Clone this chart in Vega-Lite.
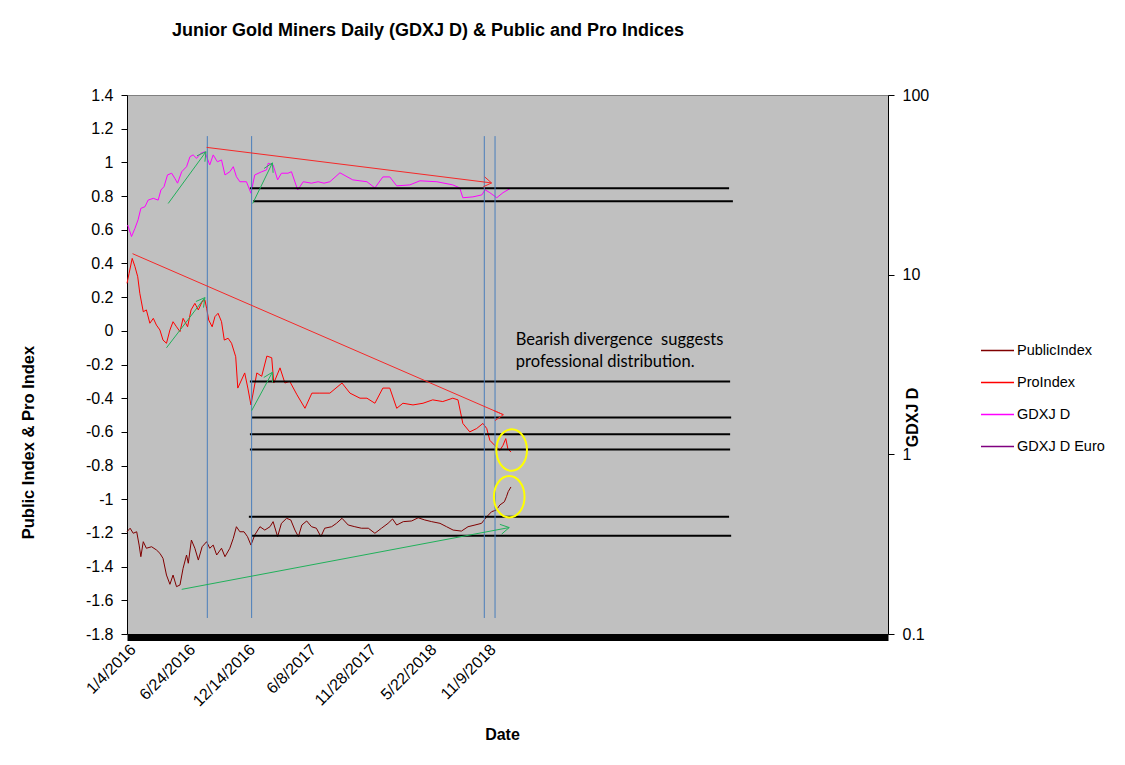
{
  "$schema": "https://vega.github.io/schema/vega-lite/v6.json",
  "width": 761,
  "height": 539,
  "autosize": "none",
  "padding": {"left": 127, "top": 95, "right": 237, "bottom": 131},
  "background": "white",
  "title": {
    "text": "Junior Gold Miners Daily (GDXJ D) & Public and Pro Indices",
    "anchor": "start",
    "frame": "group",
    "dx": 45,
    "offset": 47,
    "font": "Liberation Sans",
    "fontSize": 18,
    "fontWeight": "bold",
    "color": "black"
  },
  "config": {
    "view": {"fill": "#C0C0C0", "stroke": "#808080", "strokeWidth": 1},
    "axis": {"labelFont": "Liberation Sans", "titleFont": "Liberation Sans", "labelColor": "black", "titleColor": "black", "grid": false},
    "font": "Liberation Sans"
  },
  "datasets": {
    "idx": [
      {"date": "2016-01-04", "series": "PublicIndex", "value": -1.193},
      {"date": "2016-01-13", "series": "PublicIndex", "value": -1.172},
      {"date": "2016-01-22", "series": "PublicIndex", "value": -1.202},
      {"date": "2016-02-01", "series": "PublicIndex", "value": -1.193},
      {"date": "2016-02-08", "series": "PublicIndex", "value": -1.272},
      {"date": "2016-02-13", "series": "PublicIndex", "value": -1.341},
      {"date": "2016-02-20", "series": "PublicIndex", "value": -1.252},
      {"date": "2016-02-29", "series": "PublicIndex", "value": -1.291},
      {"date": "2016-03-15", "series": "PublicIndex", "value": -1.282},
      {"date": "2016-03-29", "series": "PublicIndex", "value": -1.301},
      {"date": "2016-04-08", "series": "PublicIndex", "value": -1.321},
      {"date": "2016-04-17", "series": "PublicIndex", "value": -1.351},
      {"date": "2016-04-27", "series": "PublicIndex", "value": -1.450},
      {"date": "2016-05-07", "series": "PublicIndex", "value": -1.505},
      {"date": "2016-05-16", "series": "PublicIndex", "value": -1.450},
      {"date": "2016-05-26", "series": "PublicIndex", "value": -1.519},
      {"date": "2016-06-05", "series": "PublicIndex", "value": -1.509},
      {"date": "2016-06-14", "series": "PublicIndex", "value": -1.410},
      {"date": "2016-06-24", "series": "PublicIndex", "value": -1.331},
      {"date": "2016-06-29", "series": "PublicIndex", "value": -1.380},
      {"date": "2016-07-08", "series": "PublicIndex", "value": -1.242},
      {"date": "2016-07-18", "series": "PublicIndex", "value": -1.291},
      {"date": "2016-07-28", "series": "PublicIndex", "value": -1.361},
      {"date": "2016-08-08", "series": "PublicIndex", "value": -1.282},
      {"date": "2016-08-21", "series": "PublicIndex", "value": -1.252},
      {"date": "2016-08-30", "series": "PublicIndex", "value": -1.291},
      {"date": "2016-09-09", "series": "PublicIndex", "value": -1.272},
      {"date": "2016-09-19", "series": "PublicIndex", "value": -1.331},
      {"date": "2016-10-03", "series": "PublicIndex", "value": -1.291},
      {"date": "2016-10-13", "series": "PublicIndex", "value": -1.341},
      {"date": "2016-10-27", "series": "PublicIndex", "value": -1.291},
      {"date": "2016-11-06", "series": "PublicIndex", "value": -1.232},
      {"date": "2016-11-15", "series": "PublicIndex", "value": -1.163},
      {"date": "2016-11-25", "series": "PublicIndex", "value": -1.193},
      {"date": "2016-12-07", "series": "PublicIndex", "value": -1.193},
      {"date": "2016-12-17", "series": "PublicIndex", "value": -1.222},
      {"date": "2016-12-27", "series": "PublicIndex", "value": -1.272},
      {"date": "2017-01-07", "series": "PublicIndex", "value": -1.212},
      {"date": "2017-01-22", "series": "PublicIndex", "value": -1.163},
      {"date": "2017-02-05", "series": "PublicIndex", "value": -1.183},
      {"date": "2017-02-20", "series": "PublicIndex", "value": -1.163},
      {"date": "2017-03-01", "series": "PublicIndex", "value": -1.133},
      {"date": "2017-03-14", "series": "PublicIndex", "value": -1.222},
      {"date": "2017-03-25", "series": "PublicIndex", "value": -1.143},
      {"date": "2017-04-09", "series": "PublicIndex", "value": -1.113},
      {"date": "2017-04-21", "series": "PublicIndex", "value": -1.123},
      {"date": "2017-05-03", "series": "PublicIndex", "value": -1.183},
      {"date": "2017-05-13", "series": "PublicIndex", "value": -1.222},
      {"date": "2017-05-23", "series": "PublicIndex", "value": -1.153},
      {"date": "2017-06-06", "series": "PublicIndex", "value": -1.129},
      {"date": "2017-06-20", "series": "PublicIndex", "value": -1.163},
      {"date": "2017-07-04", "series": "PublicIndex", "value": -1.172},
      {"date": "2017-07-17", "series": "PublicIndex", "value": -1.222},
      {"date": "2017-07-28", "series": "PublicIndex", "value": -1.172},
      {"date": "2017-08-17", "series": "PublicIndex", "value": -1.163},
      {"date": "2017-08-31", "series": "PublicIndex", "value": -1.143},
      {"date": "2017-09-16", "series": "PublicIndex", "value": -1.113},
      {"date": "2017-10-04", "series": "PublicIndex", "value": -1.153},
      {"date": "2017-10-23", "series": "PublicIndex", "value": -1.163},
      {"date": "2017-11-11", "series": "PublicIndex", "value": -1.172},
      {"date": "2017-12-01", "series": "PublicIndex", "value": -1.172},
      {"date": "2017-12-20", "series": "PublicIndex", "value": -1.202},
      {"date": "2018-01-08", "series": "PublicIndex", "value": -1.172},
      {"date": "2018-01-27", "series": "PublicIndex", "value": -1.143},
      {"date": "2018-02-09", "series": "PublicIndex", "value": -1.117},
      {"date": "2018-02-21", "series": "PublicIndex", "value": -1.153},
      {"date": "2018-03-12", "series": "PublicIndex", "value": -1.133},
      {"date": "2018-04-05", "series": "PublicIndex", "value": -1.129},
      {"date": "2018-04-24", "series": "PublicIndex", "value": -1.110},
      {"date": "2018-05-13", "series": "PublicIndex", "value": -1.123},
      {"date": "2018-06-02", "series": "PublicIndex", "value": -1.133},
      {"date": "2018-06-26", "series": "PublicIndex", "value": -1.143},
      {"date": "2018-07-15", "series": "PublicIndex", "value": -1.163},
      {"date": "2018-08-03", "series": "PublicIndex", "value": -1.183},
      {"date": "2018-08-27", "series": "PublicIndex", "value": -1.189},
      {"date": "2018-09-15", "series": "PublicIndex", "value": -1.163},
      {"date": "2018-10-05", "series": "PublicIndex", "value": -1.153},
      {"date": "2018-10-24", "series": "PublicIndex", "value": -1.143},
      {"date": "2018-11-08", "series": "PublicIndex", "value": -1.104},
      {"date": "2018-11-22", "series": "PublicIndex", "value": -1.074},
      {"date": "2018-12-06", "series": "PublicIndex", "value": -1.064},
      {"date": "2018-12-16", "series": "PublicIndex", "value": -1.034},
      {"date": "2018-12-29", "series": "PublicIndex", "value": -1.015},
      {"date": "2019-01-04", "series": "PublicIndex", "value": -0.985},
      {"date": "2019-01-09", "series": "PublicIndex", "value": -0.955},
      {"date": "2019-01-17", "series": "PublicIndex", "value": -0.927},
      {"date": "2016-01-04", "series": "ProIndex", "value": 0.282},
      {"date": "2016-01-10", "series": "ProIndex", "value": 0.341},
      {"date": "2016-01-19", "series": "ProIndex", "value": 0.430},
      {"date": "2016-01-27", "series": "ProIndex", "value": 0.381},
      {"date": "2016-02-04", "series": "ProIndex", "value": 0.321},
      {"date": "2016-02-10", "series": "ProIndex", "value": 0.223},
      {"date": "2016-02-20", "series": "ProIndex", "value": 0.113},
      {"date": "2016-02-29", "series": "ProIndex", "value": 0.124},
      {"date": "2016-03-10", "series": "ProIndex", "value": 0.045},
      {"date": "2016-03-20", "series": "ProIndex", "value": 0.074},
      {"date": "2016-03-29", "series": "ProIndex", "value": 0.034},
      {"date": "2016-04-08", "series": "ProIndex", "value": 0.005},
      {"date": "2016-04-17", "series": "ProIndex", "value": -0.055},
      {"date": "2016-04-27", "series": "ProIndex", "value": -0.074},
      {"date": "2016-05-07", "series": "ProIndex", "value": 0.005},
      {"date": "2016-05-16", "series": "ProIndex", "value": 0.054},
      {"date": "2016-05-26", "series": "ProIndex", "value": 0.024},
      {"date": "2016-06-05", "series": "ProIndex", "value": -0.005},
      {"date": "2016-06-14", "series": "ProIndex", "value": 0.074},
      {"date": "2016-06-27", "series": "ProIndex", "value": 0.024},
      {"date": "2016-07-07", "series": "ProIndex", "value": 0.124},
      {"date": "2016-07-18", "series": "ProIndex", "value": 0.163},
      {"date": "2016-07-28", "series": "ProIndex", "value": 0.124},
      {"date": "2016-08-08", "series": "ProIndex", "value": 0.173},
      {"date": "2016-08-16", "series": "ProIndex", "value": 0.183},
      {"date": "2016-08-21", "series": "ProIndex", "value": 0.134},
      {"date": "2016-08-27", "series": "ProIndex", "value": 0.064},
      {"date": "2016-09-06", "series": "ProIndex", "value": 0.024},
      {"date": "2016-09-14", "series": "ProIndex", "value": 0.084},
      {"date": "2016-09-23", "series": "ProIndex", "value": 0.104},
      {"date": "2016-10-03", "series": "ProIndex", "value": 0.054},
      {"date": "2016-10-11", "series": "ProIndex", "value": -0.055},
      {"date": "2016-10-22", "series": "ProIndex", "value": -0.044},
      {"date": "2016-11-01", "series": "ProIndex", "value": -0.074},
      {"date": "2016-11-13", "series": "ProIndex", "value": -0.154},
      {"date": "2016-11-19", "series": "ProIndex", "value": -0.34},
      {"date": "2016-12-09", "series": "ProIndex", "value": -0.25},
      {"date": "2016-12-18", "series": "ProIndex", "value": -0.34},
      {"date": "2016-12-27", "series": "ProIndex", "value": -0.44},
      {"date": "2017-01-13", "series": "ProIndex", "value": -0.25},
      {"date": "2017-01-27", "series": "ProIndex", "value": -0.27},
      {"date": "2017-02-11", "series": "ProIndex", "value": -0.15},
      {"date": "2017-02-25", "series": "ProIndex", "value": -0.16},
      {"date": "2017-03-03", "series": "ProIndex", "value": -0.31},
      {"date": "2017-03-21", "series": "ProIndex", "value": -0.22},
      {"date": "2017-04-04", "series": "ProIndex", "value": -0.31},
      {"date": "2017-04-18", "series": "ProIndex", "value": -0.30},
      {"date": "2017-05-09", "series": "ProIndex", "value": -0.38},
      {"date": "2017-06-01", "series": "ProIndex", "value": -0.46},
      {"date": "2017-06-21", "series": "ProIndex", "value": -0.37},
      {"date": "2017-07-14", "series": "ProIndex", "value": -0.37},
      {"date": "2017-08-12", "series": "ProIndex", "value": -0.37},
      {"date": "2017-09-16", "series": "ProIndex", "value": -0.31},
      {"date": "2017-10-09", "series": "ProIndex", "value": -0.37},
      {"date": "2017-11-07", "series": "ProIndex", "value": -0.40},
      {"date": "2017-11-27", "series": "ProIndex", "value": -0.40},
      {"date": "2017-12-20", "series": "ProIndex", "value": -0.43},
      {"date": "2018-01-12", "series": "ProIndex", "value": -0.34},
      {"date": "2018-02-01", "series": "ProIndex", "value": -0.34},
      {"date": "2018-02-21", "series": "ProIndex", "value": -0.46},
      {"date": "2018-03-11", "series": "ProIndex", "value": -0.43},
      {"date": "2018-04-09", "series": "ProIndex", "value": -0.44},
      {"date": "2018-05-08", "series": "ProIndex", "value": -0.43},
      {"date": "2018-06-05", "series": "ProIndex", "value": -0.41},
      {"date": "2018-07-04", "series": "ProIndex", "value": -0.42},
      {"date": "2018-08-02", "series": "ProIndex", "value": -0.40},
      {"date": "2018-08-17", "series": "ProIndex", "value": -0.41},
      {"date": "2018-08-31", "series": "ProIndex", "value": -0.55},
      {"date": "2018-09-20", "series": "ProIndex", "value": -0.60},
      {"date": "2018-10-10", "series": "ProIndex", "value": -0.58},
      {"date": "2018-10-28", "series": "ProIndex", "value": -0.55},
      {"date": "2018-11-08", "series": "ProIndex", "value": -0.58},
      {"date": "2018-11-17", "series": "ProIndex", "value": -0.65},
      {"date": "2018-12-01", "series": "ProIndex", "value": -0.68},
      {"date": "2018-12-16", "series": "ProIndex", "value": -0.71},
      {"date": "2018-12-25", "series": "ProIndex", "value": -0.68},
      {"date": "2019-01-02", "series": "ProIndex", "value": -0.64},
      {"date": "2019-01-08", "series": "ProIndex", "value": -0.70},
      {"date": "2019-01-17", "series": "ProIndex", "value": -0.72}
    ],
    "gdxj": [
      {"date": "2016-01-06", "series": "GDXJ D", "value": 18.9},
      {"date": "2016-01-17", "series": "GDXJ D", "value": 16.3},
      {"date": "2016-01-27", "series": "GDXJ D", "value": 18.1},
      {"date": "2016-02-05", "series": "GDXJ D", "value": 20.2},
      {"date": "2016-02-13", "series": "GDXJ D", "value": 23.4},
      {"date": "2016-02-25", "series": "GDXJ D", "value": 23.9},
      {"date": "2016-03-05", "series": "GDXJ D", "value": 26.0},
      {"date": "2016-03-20", "series": "GDXJ D", "value": 26.6},
      {"date": "2016-04-03", "series": "GDXJ D", "value": 26.0},
      {"date": "2016-04-11", "series": "GDXJ D", "value": 29.6},
      {"date": "2016-04-20", "series": "GDXJ D", "value": 30.9},
      {"date": "2016-04-30", "series": "GDXJ D", "value": 35.9},
      {"date": "2016-05-12", "series": "GDXJ D", "value": 36.7},
      {"date": "2016-05-21", "series": "GDXJ D", "value": 34.4},
      {"date": "2016-05-29", "series": "GDXJ D", "value": 32.3},
      {"date": "2016-06-10", "series": "GDXJ D", "value": 37.4},
      {"date": "2016-06-24", "series": "GDXJ D", "value": 39.9},
      {"date": "2016-07-04", "series": "GDXJ D", "value": 45.4},
      {"date": "2016-07-13", "series": "GDXJ D", "value": 46.4},
      {"date": "2016-07-23", "series": "GDXJ D", "value": 44.4},
      {"date": "2016-08-04", "series": "GDXJ D", "value": 47.4},
      {"date": "2016-08-16", "series": "GDXJ D", "value": 48.3},
      {"date": "2016-08-30", "series": "GDXJ D", "value": 40.8},
      {"date": "2016-09-09", "series": "GDXJ D", "value": 46.4},
      {"date": "2016-09-21", "series": "GDXJ D", "value": 42.5},
      {"date": "2016-10-03", "series": "GDXJ D", "value": 43.5},
      {"date": "2016-10-13", "series": "GDXJ D", "value": 35.9},
      {"date": "2016-10-27", "series": "GDXJ D", "value": 37.4},
      {"date": "2016-11-06", "series": "GDXJ D", "value": 39.9},
      {"date": "2016-11-15", "series": "GDXJ D", "value": 35.1},
      {"date": "2016-11-25", "series": "GDXJ D", "value": 32.9},
      {"date": "2016-12-14", "series": "GDXJ D", "value": 32.9},
      {"date": "2016-12-27", "series": "GDXJ D", "value": 28.4},
      {"date": "2017-01-07", "series": "GDXJ D", "value": 35.9},
      {"date": "2017-01-27", "series": "GDXJ D", "value": 37.4},
      {"date": "2017-02-10", "series": "GDXJ D", "value": 38.3},
      {"date": "2017-02-15", "series": "GDXJ D", "value": 41.7},
      {"date": "2017-03-01", "series": "GDXJ D", "value": 40.8},
      {"date": "2017-03-14", "series": "GDXJ D", "value": 33.7},
      {"date": "2017-03-25", "series": "GDXJ D", "value": 36.7},
      {"date": "2017-04-13", "series": "GDXJ D", "value": 36.7},
      {"date": "2017-04-23", "series": "GDXJ D", "value": 37.4},
      {"date": "2017-05-11", "series": "GDXJ D", "value": 29.6},
      {"date": "2017-05-27", "series": "GDXJ D", "value": 32.9},
      {"date": "2017-06-20", "series": "GDXJ D", "value": 32.3},
      {"date": "2017-07-09", "series": "GDXJ D", "value": 32.9},
      {"date": "2017-07-26", "series": "GDXJ D", "value": 32.3},
      {"date": "2017-08-12", "series": "GDXJ D", "value": 32.9},
      {"date": "2017-09-10", "series": "GDXJ D", "value": 36.9},
      {"date": "2017-10-17", "series": "GDXJ D", "value": 33.7},
      {"date": "2017-11-27", "series": "GDXJ D", "value": 32.9},
      {"date": "2017-12-20", "series": "GDXJ D", "value": 30.4},
      {"date": "2018-01-12", "series": "GDXJ D", "value": 35.0},
      {"date": "2018-02-01", "series": "GDXJ D", "value": 35.0},
      {"date": "2018-02-21", "series": "GDXJ D", "value": 31.2},
      {"date": "2018-03-31", "series": "GDXJ D", "value": 31.6},
      {"date": "2018-04-29", "series": "GDXJ D", "value": 33.3},
      {"date": "2018-06-17", "series": "GDXJ D", "value": 32.9},
      {"date": "2018-08-02", "series": "GDXJ D", "value": 31.6},
      {"date": "2018-08-22", "series": "GDXJ D", "value": 30.4},
      {"date": "2018-08-31", "series": "GDXJ D", "value": 26.8},
      {"date": "2018-09-29", "series": "GDXJ D", "value": 27.1},
      {"date": "2018-10-25", "series": "GDXJ D", "value": 27.8},
      {"date": "2018-11-03", "series": "GDXJ D", "value": 29.7},
      {"date": "2018-11-17", "series": "GDXJ D", "value": 28.6},
      {"date": "2018-12-07", "series": "GDXJ D", "value": 26.8},
      {"date": "2018-12-25", "series": "GDXJ D", "value": 28.6},
      {"date": "2019-01-14", "series": "GDXJ D", "value": 30.1}
    ],
    "levels": [
      {"date": "2016-12-24", "date2": "2020-10-08", "value": 0.847},
      {"date": "2017-01-02", "date2": "2020-10-19", "value": 0.769},
      {"date": "2016-12-24", "date2": "2020-10-11", "value": -0.301},
      {"date": "2016-12-30", "date2": "2020-10-14", "value": -0.514},
      {"date": "2016-12-24", "date2": "2020-10-11", "value": -0.614},
      {"date": "2016-12-24", "date2": "2020-10-11", "value": -0.704},
      {"date": "2016-12-21", "date2": "2020-10-08", "value": -1.104},
      {"date": "2016-12-30", "date2": "2020-10-14", "value": -1.217}
    ],
    "strokes": [
      {"kind": "red", "date": "2016-08-21", "value": 1.089, "date2": "2018-11-22", "value2": 0.878},
      {"kind": "red", "date": "2018-10-29", "value": 0.855, "date2": "2018-11-22", "value2": 0.878},
      {"kind": "red", "date": "2018-11-02", "value": 0.914, "date2": "2018-11-22", "value2": 0.878},
      {"kind": "red", "date": "2016-01-20", "value": 0.458, "date2": "2018-12-26", "value2": -0.498},
      {"kind": "red", "date": "2018-11-29", "value": -0.474, "date2": "2018-12-26", "value2": -0.498},
      {"kind": "red", "date": "2018-12-02", "value": -0.533, "date2": "2018-12-26", "value2": -0.498},
      {"kind": "green", "date": "2016-05-02", "value": 0.756, "date2": "2016-08-19", "value2": 1.063},
      {"kind": "green", "date": "2016-08-16", "value": 1.004, "date2": "2016-08-19", "value2": 1.063},
      {"kind": "green", "date": "2016-07-24", "value": 1.039, "date2": "2016-08-19", "value2": 1.063},
      {"kind": "green", "date": "2017-01-01", "value": 0.756, "date2": "2017-02-27", "value2": 0.997},
      {"kind": "green", "date": "2017-03-01", "value": 0.938, "date2": "2017-02-27", "value2": 0.997},
      {"kind": "green", "date": "2017-02-03", "value": 0.964, "date2": "2017-02-27", "value2": 0.997},
      {"kind": "green", "date": "2016-04-27", "value": -0.101, "date2": "2016-08-16", "value2": 0.197},
      {"kind": "green", "date": "2016-08-12", "value": 0.138, "date2": "2016-08-16", "value2": 0.197},
      {"kind": "green", "date": "2016-07-21", "value": 0.174, "date2": "2016-08-16", "value2": 0.197},
      {"kind": "green", "date": "2016-12-29", "value": -0.474, "date2": "2017-02-27", "value2": -0.246},
      {"kind": "green", "date": "2017-02-27", "value": -0.306, "date2": "2017-02-27", "value2": -0.246},
      {"kind": "green", "date": "2017-02-02", "value": -0.277, "date2": "2017-02-27", "value2": -0.246},
      {"kind": "green", "date": "2016-06-10", "value": -1.535, "date2": "2019-01-12", "value2": -1.168},
      {"kind": "green", "date": "2018-12-21", "value": -1.207, "date2": "2019-01-12", "value2": -1.168},
      {"kind": "green", "date": "2018-12-16", "value": -1.149, "date2": "2019-01-12", "value2": -1.168},
      {"kind": "blue", "date": "2016-08-23", "value": 1.156, "date2": "2016-08-23", "value2": -1.705},
      {"kind": "blue", "date": "2016-12-29", "value": 1.156, "date2": "2016-12-29", "value2": -1.705},
      {"kind": "blue", "date": "2018-11-01", "value": 1.156, "date2": "2018-11-01", "value2": -1.705},
      {"kind": "blue", "date": "2018-12-02", "value": 1.156, "date2": "2018-12-02", "value2": -1.705}
    ],
    "rings": [
      {"date": "2019-01-19", "value": -0.708},
      {"date": "2019-01-12", "value": -0.985}
    ],
    "notes": [
      {"date": "2019-01-31", "value": -0.057, "text": "Bearish divergence\u00a0 suggests"},
      {"date": "2019-01-31", "value": -0.188, "text": "professional distribution."}
    ]
  },
  "layer": [
    {
      "data": {"name": "gdxj"},
      "mark": {"type": "line", "strokeWidth": 1, "clip": true},
      "encoding": {
        "x": {
          "field": "date", "type": "temporal",
          "scale": {"type": "utc", "domain": [{"year": 2016, "month": 1, "date": 4, "utc": true}, {"year": 2022, "month": 1, "date": 10, "utc": true}]},
          "axis": {
            "values": [
              {"year": 2016, "month": 1, "date": 4, "utc": true},
              {"year": 2016, "month": 6, "date": 24, "utc": true},
              {"year": 2016, "month": 12, "date": 14, "utc": true},
              {"year": 2017, "month": 6, "date": 8, "utc": true},
              {"year": 2017, "month": 11, "date": 28, "utc": true},
              {"year": 2018, "month": 5, "date": 22, "utc": true},
              {"year": 2018, "month": 11, "date": 9, "utc": true}
            ],
            "tickCount": 20,
            "labelExpr": "utcFormat(datum.value, '%-m/%-d/%Y')",
            "labelAngle": -45,
            "labelAlign": "right",
            "labelBaseline": "top",
            "labelFontSize": 16,
            "labelPadding": 4,
            "labelFlush": false,
            "labelOverlap": false,
            "ticks": false,
            "domainColor": "black",
            "domainWidth": 7,
            "offset": 3,
            "title": "Date",
            "titleFontSize": 16,
            "titleFontWeight": "bold",
            "titleX": 375,
            "titleY": 89,
            "titleAlign": "center"
          }
        },
        "y": {
          "field": "value", "type": "quantitative",
          "scale": {"type": "log", "domain": [0.1, 100], "nice": false},
          "axis": {
            "orient": "right",
            "values": [0.1, 1, 10, 100],
            "tickCount": 10,
            "labelExpr": "'' + datum.value",
            "labelOverlap": false,
            "tickSize": 6,
            "tickColor": "black",
            "domainColor": "black",
            "labelPadding": 8,
            "labelFontSize": 16,
            "title": "GDXJ D",
            "titleFontSize": 16,
            "titleFontWeight": "bold",
            "titleAngle": 270,
            "titleX": 24,
            "titleY": 322,
            "titleAlign": "center",
            "titleBaseline": "middle"
          }
        },
        "color": {
          "field": "series", "type": "nominal",
          "scale": {"domain": ["PublicIndex", "ProIndex", "GDXJ D", "GDXJ D Euro"], "range": ["#800000", "#FF0000", "#FF00FF", "#800080"]},
          "legend": {
            "orient": "none",
            "legendX": 853,
            "legendY": 238,
            "title": null,
            "symbolType": "stroke",
            "symbolSize": 1089,
            "symbolStrokeWidth": 1.5,
            "labelFont": "Liberation Sans",
            "labelFontSize": 14.5,
            "labelColor": "black",
            "labelOffset": 2,
            "rowPadding": 8,
            "padding": 0
          }
        }
      }
    },
    {
      "layer": [
        {
          "data": {"name": "idx"},
          "mark": {"type": "line", "strokeWidth": 1},
          "encoding": {
            "x": {"field": "date", "type": "temporal"},
            "y": {
              "field": "value", "type": "quantitative",
              "scale": {"domain": [-1.8, 1.4], "nice": false, "zero": false},
              "axis": {
                "orient": "left",
                "values": [-1.8, -1.6, -1.4, -1.2, -1, -0.8, -0.6, -0.4, -0.2, 0, 0.2, 0.4, 0.6, 0.8, 1, 1.2, 1.4],
                "tickCount": 30,
                "labelExpr": "'' + datum.value",
                "labelOverlap": false,
                "tickSize": 6,
                "tickColor": "black",
                "domainColor": "black",
                "labelPadding": 8,
                "labelFontSize": 16,
                "title": "Public Index & Pro Index",
                "titleFontSize": 16.5,
                "titleFontWeight": "bold",
                "titleAngle": 270,
                "titleX": -99,
                "titleY": 347,
                "titleAlign": "center",
                "titleBaseline": "middle"
              }
            },
            "color": {
              "field": "series", "type": "nominal",
              "scale": {"domain": ["PublicIndex", "ProIndex", "GDXJ D", "GDXJ D Euro"], "range": ["#800000", "#FF0000", "#FF00FF", "#800080"]},
              "legend": {
                "orient": "none",
                "legendX": 853,
                "legendY": 238,
                "title": null,
                "symbolType": "stroke",
                "symbolSize": 1089,
                "symbolStrokeWidth": 1.5,
                "labelFont": "Liberation Sans",
                "labelFontSize": 14.5,
                "labelColor": "black",
                "labelOffset": 2,
                "rowPadding": 8,
                "padding": 0
              }
            }
          }
        },
        {
          "data": {"name": "levels"},
          "mark": {"type": "rule", "color": "black", "strokeWidth": 2},
          "encoding": {
            "x": {"field": "date", "type": "temporal"},
            "x2": {"field": "date2"},
            "y": {"field": "value", "type": "quantitative"}
          }
        },
        {
          "data": {"name": "strokes"},
          "transform": [{"filter": "datum.kind === 'blue'"}],
          "mark": {"type": "rule", "color": "#4A7EBB", "strokeWidth": 1},
          "encoding": {
            "x": {"field": "date", "type": "temporal"},
            "x2": {"field": "date2"},
            "y": {"field": "value", "type": "quantitative"},
            "y2": {"field": "value2"}
          }
        },
        {
          "data": {"name": "strokes"},
          "transform": [{"filter": "datum.kind === 'red'"}],
          "mark": {"type": "rule", "color": "#F52828", "strokeWidth": 1},
          "encoding": {
            "x": {"field": "date", "type": "temporal"},
            "x2": {"field": "date2"},
            "y": {"field": "value", "type": "quantitative"},
            "y2": {"field": "value2"}
          }
        },
        {
          "data": {"name": "strokes"},
          "transform": [{"filter": "datum.kind === 'green'"}],
          "mark": {"type": "rule", "color": "#20B05A", "strokeWidth": 1},
          "encoding": {
            "x": {"field": "date", "type": "temporal"},
            "x2": {"field": "date2"},
            "y": {"field": "value", "type": "quantitative"},
            "y2": {"field": "value2"}
          }
        },
        {
          "data": {"name": "rings"},
          "mark": {"type": "point", "shape": "M0,-1A0.74,1,0,1,1,0,1A0.74,1,0,1,1,0,-1Z", "size": 1714, "filled": false, "stroke": "#FFFF00", "color": "#FFFF00", "strokeWidth": 2, "opacity": 1},
          "encoding": {
            "x": {"field": "date", "type": "temporal"},
            "y": {"field": "value", "type": "quantitative"}
          }
        },
        {
          "data": {"name": "notes"},
          "mark": {"type": "text", "align": "left", "baseline": "middle", "font": "Lato", "fontSize": 16.5, "color": "black"},
          "encoding": {
            "x": {"field": "date", "type": "temporal"},
            "y": {"field": "value", "type": "quantitative"},
            "text": {"field": "text"}
          }
        }
      ]
    }
  ],
  "resolve": {"scale": {"y": "independent"}}
}
